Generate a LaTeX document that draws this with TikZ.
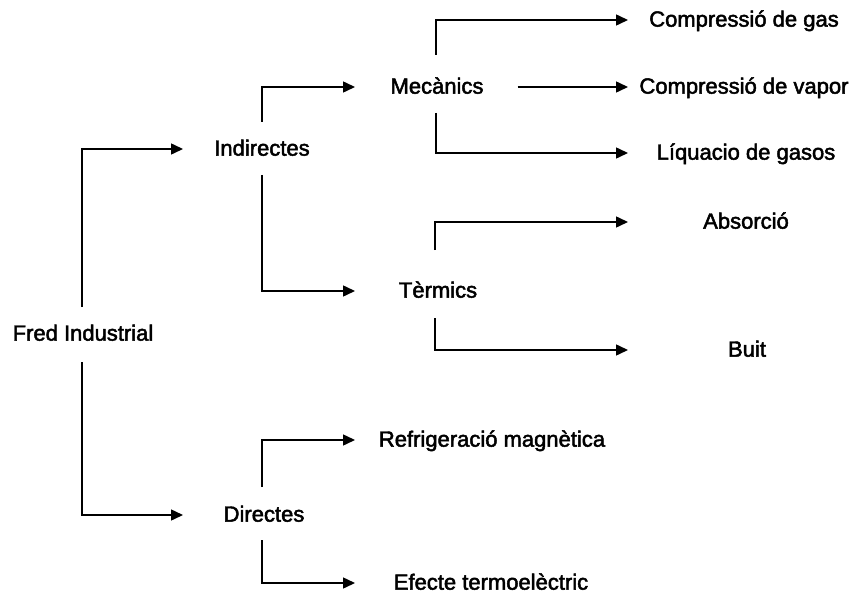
\documentclass[tikz,border=0pt]{standalone}
\usepackage{fontspec}
\setmainfont[FakeBold=2.2,AutoFakeBold=2.2]{Liberation Sans}
\usetikzlibrary{arrows.meta}
% drops a label a little below its node's mid line
\newcommand\lowtext[1]{\raisebox{-4pt}{#1}}
\begin{document}
\begin{tikzpicture}[x=1pt,y=-1pt,
  lbl/.style={inner sep=0pt, anchor=mid, font=\fontsize{22}{26}\selectfont\bfseries},
  link/.style={line width=1.5pt},
  arrow/.style={link,-{Triangle[length=12pt,width=11pt]}}]
\useasboundingbox (0,0) rectangle (853,596);

% arrow-tip columns
\coordinate (c1) at (183,0);
\coordinate (c2) at (355,0);
\coordinate (c3) at (628,0);

% categories
\node[lbl] (fred) at (83,334) {\lowtext{Fred Industrial}};
\node[lbl] (ind)  at (262,149) {\lowtext{Indirectes}};
\node[lbl] (dir)  at (264,515) {\lowtext{Directes}};
\node[lbl] (mec)  at (437,87)  {\lowtext{Mecànics}};
\node[lbl] (ter)  at (438,291) {\lowtext{Tèrmics}};

% leaves
\node[lbl] (gas)  at (744,20)  {\lowtext{Compressió de gas}};
\node[lbl] (vap)  at (744,87)  {\lowtext{Compressió de vapor}};
\node[lbl] (liq)  at (746,153) {\lowtext{Líquacio de gasos}};
\node[lbl] (abs)  at (746,222) {\lowtext{Absorció}};
\node[lbl] (buit) at (747,350) {\lowtext{Buit}};
\node[lbl] (mag)  at (492,440) {\lowtext{Refrigeració magnètica}};
\node[lbl] (efe)  at (491,583) {\lowtext{Efecte termoelèctric}};

% connectors
\draw[arrow] ([xshift=-1pt,yshift=27pt]fred.mid) |- (ind.mid -| c1);
\draw[arrow] ([xshift=-1pt,yshift=-28pt]fred.mid) |- (dir.mid -| c1);
\draw[arrow] ([yshift=27pt]ind.mid) |- (mec.mid -| c2);
\draw[arrow] ([yshift=-26pt]ind.mid) |- (ter.mid -| c2);
\draw[arrow] ([xshift=-1pt,yshift=32pt]mec.mid) |- (gas.mid -| c3);
\draw[arrow] ([xshift=34pt]mec.mid east) -- (vap.mid -| c3);
\draw[arrow] ([xshift=-1pt,yshift=-26pt]mec.mid) |- (liq.mid -| c3);
\draw[arrow] ([xshift=-3pt,yshift=41pt]ter.mid) |- (abs.mid -| c3);
\draw[arrow] ([xshift=-3pt,yshift=-27pt]ter.mid) |- (buit.mid -| c3);
\draw[arrow] ([xshift=-2pt,yshift=28pt]dir.mid) |- (mag.mid -| c2);
\draw[arrow] ([xshift=-2pt,yshift=-25pt]dir.mid) |- (efe.mid -| c2);
\end{tikzpicture}
\end{document}
